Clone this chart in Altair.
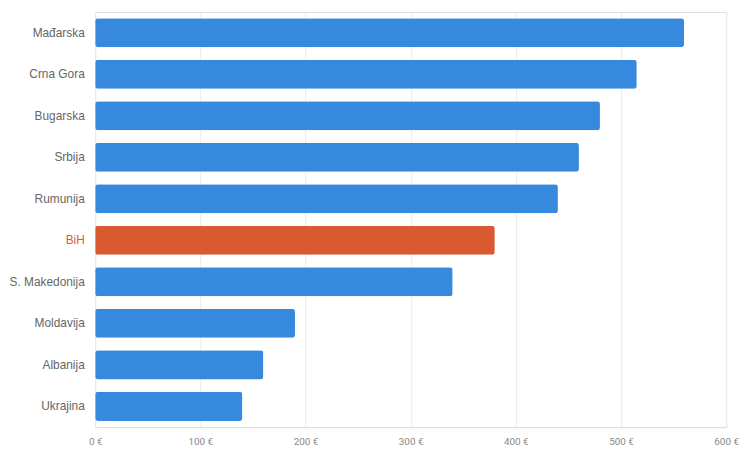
import altair as alt
import pandas as pd

countries = ["Mađarska", "Crna Gora", "Bugarska", "Srbija", "Rumunija", "BiH",
             "S. Makedonija", "Moldavija", "Albanija", "Ukrajina"]
values = [560, 515, 480, 460, 440, 380, 340, 190, 160, 140]
highlight = "BiH"

df = pd.DataFrame({"country": countries, "value": values})
df["hl"] = df["country"] == highlight

chart = alt.Chart(df).mark_bar(cornerRadius=3).encode(
    y=alt.Y("country:N", sort=countries, title=None,
            scale=alt.Scale(paddingInner=0.3, paddingOuter=0.15),
            axis=alt.Axis(ticks=False, domain=False, labelFontSize=12,
                          labelFont="Liberation Sans", labelPadding=11,
                          labelColor=alt.ExprRef("datum.value === 'BiH' ? '#d95b30' : '#666666'"))),
    x=alt.X("value:Q", title=None,
            scale=alt.Scale(domain=[0, 600]),
            axis=alt.Axis(values=[0, 100, 200, 300, 400, 500, 600], labelExpr="datum.value + ' €'",
                          ticks=False, domain=True, domainColor="#dddddd",
                          grid=True, gridColor="#ececec", labelColor="#888888",
                          labelFontSize=10, labelFont="Roboto", labelPadding=10,
                          labelFlush=False)),
    color=alt.Color("hl:N", scale=alt.Scale(domain=[False, True], range=["#3689dd", "#d95a30"]),
                    legend=None),
).properties(
    width=637, height=419,
    padding={"left": 88, "top": 2, "right": 16, "bottom": 20},
    autosize=alt.AutoSizeParams(type="none"),
).configure_view(stroke="transparent", strokeWidth=0).configure(background="white")

chart.save("out.html", embed_options={"renderer": "svg", "actions": False})
